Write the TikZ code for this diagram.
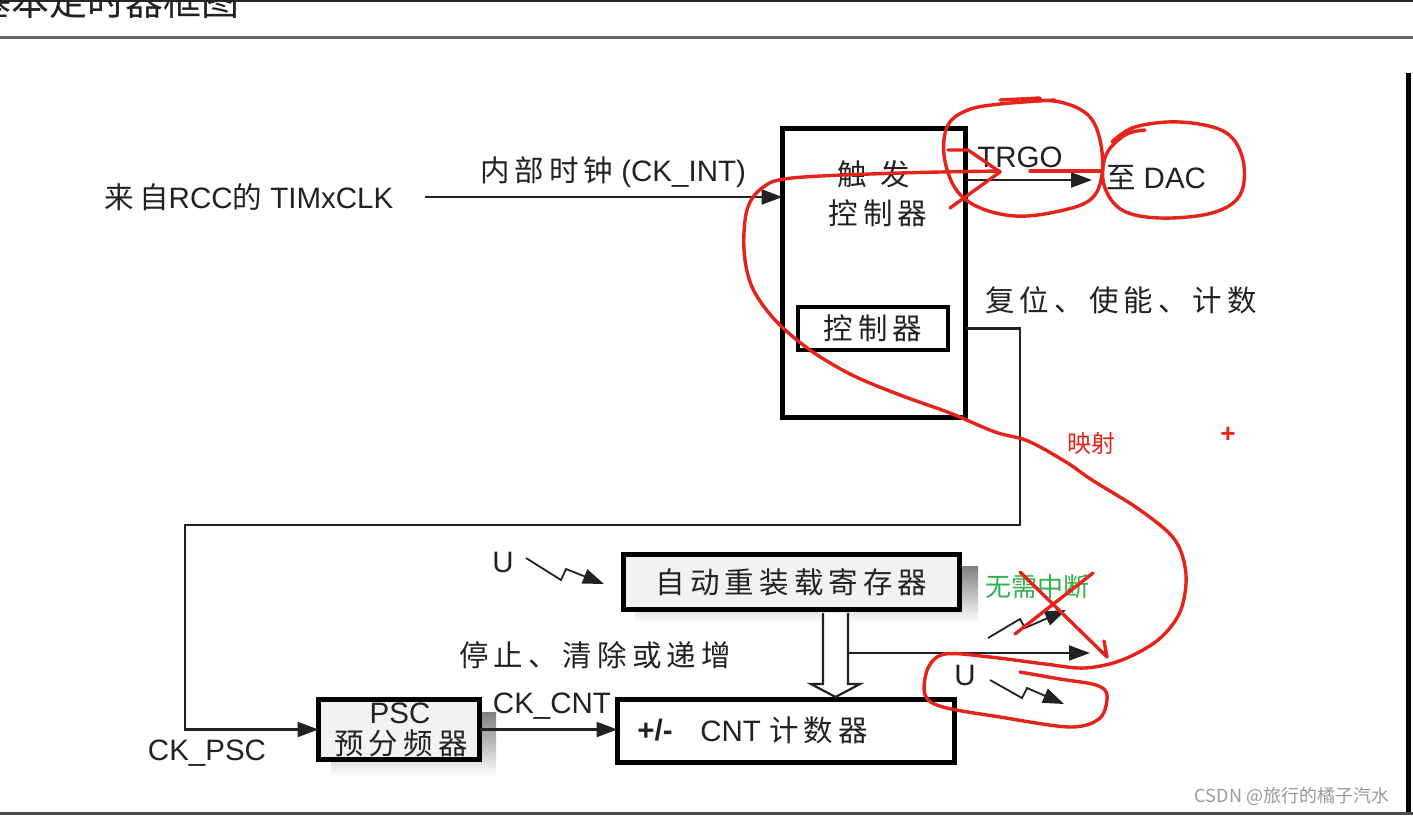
\documentclass[tikz,border=0pt]{standalone}
\usepackage{fontspec}
\setmainfont{Liberation Sans}
\newfontfamily\cjk[LetterSpace=17]{Noto Sans CJK SC}
\newfontfamily\cjkn{Noto Sans CJK SC}
\usetikzlibrary{arrows.meta,calc}
\definecolor{ink}{HTML}{222222}
\definecolor{shade}{HTML}{5E5E5E}
\definecolor{boxfill}{HTML}{F2F2F2}
\definecolor{pen}{HTML}{E5231B}
\definecolor{grn}{HTML}{2FB24C}
\definecolor{wm}{HTML}{9A9A9A}
\begin{document}
\begin{tikzpicture}[x=1pt,y=-1pt,
  font=\fontsize{29.5}{34}\selectfont, text=ink,
  lbl/.style={inner sep=0pt, anchor=center},
  blk/.style={draw=black, line width=4.5pt, inner sep=0pt, outer sep=0pt},
  wire/.style={draw=ink, line width=2.2pt},
  arr/.style={wire, -{Triangle[length=21pt,width=15pt]}},
  bolt/.style={draw=ink, line width=1.8pt, line join=miter, -{Triangle[length=21pt,width=15pt]}},
  redpen/.style={draw=pen, line width=3.4pt, line cap=round, line join=round}]
\useasboundingbox (0,0) rectangle (1413,815);
\clip (0,0) rectangle (1413,815);
\fill[white] (0,0) rectangle (1413,815);

% frame lines
\fill[black!85] (0,0) rectangle (1413,2);
\fill[black!60] (0,35.5) rectangle (1413,39);
\fill[black] (1406,73) rectangle (1411,815);
\fill[black!70] (0,812) rectangle (1413,815);
\node[lbl, font=\cjkn\fontsize{38}{40}\selectfont] (title) at (107,1) {基本定时器框图};

% main trigger controller box
\node[blk, line width=5pt, minimum width=183pt, minimum height=289pt] (main) at (874,273) {};
\node[lbl] (trig1) at (874,174) {\cjk 触\hspace{14pt}发};
\node[lbl] (trig2) at (878,213) {\cjk 控制器};
\node[blk, line width=4pt, minimum width=150pt, minimum height=43pt] (ctl) at (873,328.5) {\cjk 控制器};

% clock input
\node[lbl] (src) at (249,197) {{\cjk 来自}RCC{\cjk 的} TIMxCLK};
\node[lbl] (ckint) at (613,172) {{\cjk 内部时钟} (CK\_INT)};
\coordinate (clkstart) at (425,197);
\draw[arr] (clkstart) -- (clkstart -| main.west);

% TRGO
\node[lbl] (trgo) at (1020,157) {TRGO};
\node[lbl] (dac) at (1156,178) {{\cjk 至} DAC};
\coordinate (dacin) at (1092,180);
\draw[arr] (dacin -| main.east) -- (dacin);

% reset / enable / count
\node[lbl] (rst) at (1121,300) {\cjk 复位、使能、计数};
\coordinate (r2) at (1020,525);
\coordinate (r3) at (185,525);

% PSC
\fill[shade] (331,712) rectangle (496,777);
\node[blk, line width=5pt, fill=boxfill, minimum width=161pt, minimum height=60pt] (psc) at (399,729.5) {};
\node[lbl] (psc1) at (400,713) {PSC};
\node[lbl] (psc2) at (401,743) {\cjk 预分频器};
\node[lbl] (ckpsc) at (207,753) {CK\_PSC};
\draw[arr] (main.east |- ctl) -| (r2) -- (r3) |- (psc.west);

% CNT
\node[blk, minimum width=337pt, minimum height=63pt] (cnt) at (786,731) {};
\node[lbl] (pm) at (655,730) {\textbf{+/-}};
\node[lbl] (cntt) at (784,730) {CNT {\cjk 计数器}};
\node[lbl] (ckcnt) at (552,706) {CK\_CNT};
\draw[arr] (psc.east) -- (psc.east -| cnt.west);

% auto reload register
\fill[shade] (635,566) rectangle (978,623);
\node[blk, line width=5pt, fill=boxfill, minimum width=336pt, minimum height=55pt] (arrg) at (791.5,582) {\cjk 自动重装载寄存器};
\node[lbl] (u1) at (503,562) {U};
\draw[bolt] (526,558) -- (561,580) -- (566,569) -- (604,584);
\node[lbl] (stop) at (595,655) {\cjk 停止、清除或递增};

% hollow transfer arrow
\draw[wire, fill=white, line join=miter] (823,613) -- (823,684) -- (811,684) -- (835.5,697) -- (860,684) -- (848,684) -- (848,613);
\coordinate (upd) at (1090,653);
\draw[arr] (848,653) -- (upd);

% interrupt outputs
\draw[bolt] (988,638) -- (1020,619) -- (1025,628) -- (1066,610);
\node[lbl] (u2) at (965,675) {U};
\draw[bolt] (990,680) -- (1022,698) -- (1027,688) -- (1064,704);

% annotations
\node[lbl, text=grn, font=\cjkn\fontsize{26}{30}\selectfont] (nointr) at (1037,587) {无需中断};
\node[lbl, text=pen, font=\cjkn\fontsize{24}{28}\selectfont] (map) at (1091,443) {映射};
\node[lbl, text=pen, font=\bfseries\fontsize{26}{30}\selectfont] (plus) at (1228,435) {+};
\node[lbl, text=wm, font=\cjkn\fontsize{18}{22}\selectfont] (wmk) at (1292,796) {CSDN @旅行的橘子汽水};

% red freehand strokes
\draw[redpen] plot[smooth, tension=0.6] coordinates {(1022,100) (1060,102) (1088,115) (1100,140) (1102,175) (1090,200) (1055,212) (1015,216) (978,207) (955,188) (944,155) (948,125) (968,110) (1000,104) (1055,100)};
\draw[redpen] (1000,100) -- (1040,98);
\draw[redpen] plot[smooth, tension=0.6] coordinates {(1112,142) (1135,127) (1180,122) (1225,132) (1243,160) (1240,195) (1212,213) (1160,218) (1122,210) (1104,185) (1106,155) (1125,135) (1145,130)};
\draw[redpen] (1030,171) -- (1102,171);
\draw[redpen] (948,150) -- (968,150) -- (1000,172) -- (950,208);
\draw[redpen] plot[smooth, tension=0.55] coordinates {(1000,171) (900,173) (792,178) (762,188) (747,210) (744,250) (752,287) (775,320) (810,350) (852,375) (900,395) (950,413) (995,432) (1028,441) (1066,462) (1092,480) (1140,510) (1175,540) (1186,575) (1180,612) (1158,640) (1122,660) (1085,668) (1045,664) (990,657) (945,654) (928,668) (925,695) (943,707) (1000,717) (1070,727) (1100,718) (1107,695) (1096,685) (1060,679) (1020,672)};
\draw[redpen] (1015,634) -- (1093,573);
\draw[redpen] (1020,572) -- (1107,657) -- (1104,641);
\end{tikzpicture}
\end{document}
